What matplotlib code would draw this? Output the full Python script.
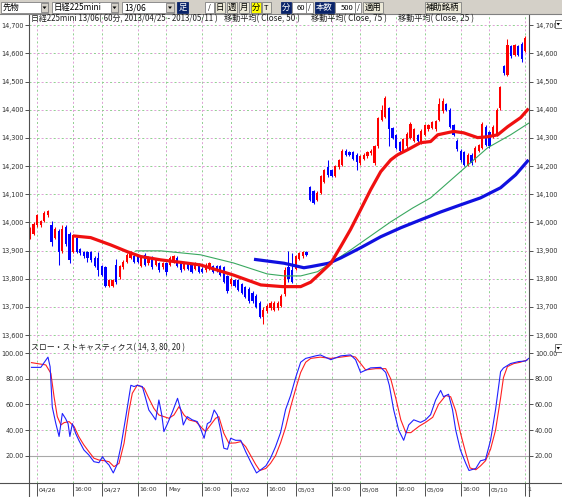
import matplotlib
matplotlib.use('Agg')
import matplotlib.pyplot as plt
from matplotlib.patches import Rectangle, Polygon
from matplotlib.lines import Line2D
import matplotlib.transforms as mtrans
import numpy as np

plt.rcParams['font.family'] = ['Noto Sans CJK JP', 'DejaVu Sans']
plt.rcParams['lines.scale_dashes'] = False

# ---------------- data (hourly bars, 2013/04/25 22:00 .. 2013/05/10 16:00) ----------------
opens = [13945, 13960, 13990, 13990, 14005, 14025, 13990, 13945, 13970, 13900,
         13985, 13960, 13895, 13945, 13905, 13895, 13895, 13895, 13875, 13875,
         13845, 13840, 13775, 13775, 13850, 13805, 13840, 13860, 13875, 13880,
         13880, 13845, 13885, 13855, 13875, 13850, 13855, 13840, 13855, 13850,
         13860, 13875, 13855, 13835, 13855, 13850, 13835, 13850, 13835, 13830,
         13835, 13845, 13845, 13845, 13840, 13810, 13780, 13795, 13795, 13780,
         13770, 13765, 13750, 13740, 13715, 13665, 13685, 13695, 13690, 13695,
         13705, 13745, 13840, 13830, 13835, 13870, 13880, 13895, 14125, 14110,
         14080, 14105, 14145, 14195, 14185, 14165, 14195, 14205, 14255, 14250,
         14250, 14240, 14210, 14225, 14235, 14245, 14210, 14270, 14365, 14375,
         14405, 14335, 14310, 14285, 14255, 14270, 14300, 14290, 14310, 14285,
         14310, 14330, 14335, 14330, 14365, 14395, 14420, 14400, 14345, 14290,
         14255, 14250, 14205, 14240, 14220, 14255, 14265, 14340, 14320, 14305,
         14310, 14405, 14555, 14525, 14625, 14595, 14625, 14635, 14610]
highs = [13985, 14000, 14030, 14010, 14040, 14045, 14005, 13985, 13975, 13990,
         13990, 13965, 13960, 13950, 13910, 13900, 13900, 13900, 13880, 13895,
         13850, 13845, 13800, 13800, 13870, 13850, 13865, 13890, 13900, 13890,
         13885, 13880, 13890, 13880, 13880, 13870, 13860, 13860, 13860, 13880,
         13885, 13880, 13860, 13860, 13860, 13855, 13860, 13855, 13840, 13855,
         13860, 13850, 13850, 13850, 13845, 13815, 13805, 13800, 13800, 13785,
         13775, 13770, 13755, 13745, 13720, 13700, 13710, 13720, 13720, 13720,
         13745, 13840, 13900, 13890, 13885, 13895, 13900, 13900, 14130, 14115,
         14110, 14170, 14190, 14220, 14190, 14205, 14225, 14260, 14260, 14255,
         14255, 14245, 14240, 14245, 14255, 14260, 14275, 14375, 14415, 14450,
         14410, 14340, 14315, 14290, 14300, 14320, 14355, 14335, 14315, 14330,
         14350, 14350, 14360, 14365, 14440, 14440, 14425, 14405, 14350, 14295,
         14260, 14255, 14245, 14245, 14270, 14280, 14355, 14345, 14325, 14345,
         14405, 14485, 14560, 14650, 14630, 14635, 14630, 14640, 14660]
lows = [13940, 13955, 13985, 13985, 14000, 14020, 13915, 13940, 13850, 13890,
        13915, 13855, 13890, 13890, 13885, 13875, 13860, 13860, 13840, 13810,
        13810, 13770, 13770, 13770, 13780, 13800, 13835, 13855, 13870, 13855,
        13855, 13840, 13845, 13850, 13835, 13845, 13825, 13835, 13815, 13845,
        13855, 13840, 13825, 13830, 13830, 13820, 13830, 13820, 13820, 13825,
        13830, 13820, 13825, 13810, 13785, 13750, 13775, 13770, 13755, 13745,
        13730, 13715, 13715, 13695, 13660, 13640, 13680, 13690, 13685, 13690,
        13700, 13740, 13790, 13785, 13830, 13865, 13875, 13880, 14075, 14065,
        14075, 14100, 14140, 14160, 14160, 14160, 14190, 14200, 14235, 14235,
        14220, 14185, 14205, 14220, 14230, 14240, 14205, 14265, 14360, 14370,
        14270, 14295, 14260, 14250, 14250, 14265, 14295, 14285, 14285, 14280,
        14305, 14325, 14330, 14325, 14360, 14390, 14395, 14335, 14305, 14255,
        14215, 14200, 14200, 14205, 14215, 14250, 14260, 14270, 14265, 14300,
        14305, 14400, 14525, 14520, 14585, 14590, 14590, 14570, 14605]
closes = [13980, 13995, 14025, 14005, 14035, 14040, 13930, 13975, 13895, 13975,
          13925, 13865, 13955, 13895, 13890, 13880, 13875, 13865, 13845, 13830,
          13815, 13775, 13795, 13795, 13790, 13845, 13860, 13885, 13895, 13860,
          13860, 13875, 13850, 13875, 13840, 13865, 13830, 13855, 13825, 13875,
          13880, 13845, 13830, 13855, 13835, 13825, 13855, 13825, 13825, 13850,
          13855, 13825, 13830, 13815, 13790, 13755, 13800, 13775, 13760, 13750,
          13735, 13720, 13720, 13700, 13665, 13690, 13705, 13715, 13715, 13715,
          13740, 13830, 13800, 13790, 13880, 13890, 13895, 13885, 14080, 14070,
          14105, 14165, 14185, 14170, 14165, 14200, 14220, 14255, 14240, 14240,
          14225, 14215, 14235, 14240, 14250, 14255, 14270, 14370, 14400, 14440,
          14330, 14300, 14265, 14255, 14295, 14315, 14350, 14330, 14290, 14325,
          14345, 14345, 14355, 14360, 14420, 14430, 14400, 14340, 14310, 14260,
          14220, 14205, 14240, 14210, 14265, 14275, 14350, 14275, 14270, 14340,
          14400, 14480, 14530, 14630, 14590, 14630, 14595, 14580, 14655]

# moving averages read at sample bars (bar index, price)
ma25_idx = [12.1, 16.9, 22.5, 27.1, 30.8, 36.4, 43.4, 47.5, 56.7, 64.3, 70.4, 75.4, 78.2,
            80.9, 83.8, 86.6, 89.3, 92.1, 94.9, 97.7, 100.5, 102.4, 105.2, 108.8, 111.6,
            113.6, 118.0, 120.8, 124.7, 127.5, 130.3, 133.1, 136.7, 138.9]
ma25_val = [13952, 13946, 13920, 13896, 13879, 13867, 13856, 13849, 13813, 13778, 13772,
            13772, 13788, 13820, 13855, 13915, 13975, 14045, 14116, 14180, 14222, 14240,
            14258, 14283, 14287, 14311, 14323, 14318, 14301, 14304, 14311, 14340, 14372, 14404]
ma50_idx = [29.5, 36.4, 42.0, 47.5, 56.7, 66.1, 70.8, 75.4, 80.1, 83.8, 89.3, 94.9,
            100.5, 106.6, 111.6, 119.9, 127.5, 133.9, 138.9]
ma50_val = [13899, 13899, 13892, 13885, 13856, 13817, 13810, 13810, 13825, 13856, 13902,
            13952, 14002, 14051, 14087, 14180, 14265, 14311, 14352]
ma75_idx = [62.4, 70.8, 76.3, 78.2, 83.2, 86.6, 92.1, 97.7, 103.3, 108.8, 114.4, 119.9,
            125.5, 131.1, 135.3, 138.9]
ma75_val = [13869, 13855, 13839, 13843, 13855, 13874, 13910, 13949, 13981, 14009, 14037,
            14062, 14087, 14123, 14169, 14222]

# slow stochastics (14, 3) read at sample bars
k_idx = [0.4, 3.0, 5.0, 5.6, 6.2, 7.2, 8.1, 9.0, 9.9, 10.6, 11.1, 11.8, 12.7, 13.6, 15.0,
         16.4, 17.8, 19.2, 20.2, 21.1, 22.0, 23.2, 24.2, 25.3, 26.7, 28.1, 29.0, 29.9, 31.3,
         32.2, 33.1, 34.1, 35.0, 35.9, 36.7, 37.3, 38.3, 39.7, 41.1, 42.0, 42.7, 43.8, 45.2,
         46.6, 47.5, 48.5, 49.4, 50.3, 51.3, 52.2, 53.1, 54.0, 55.0, 55.9, 57.3, 58.7, 60.1,
         61.5, 63.1, 64.3, 65.7, 67.0, 68.4, 69.8, 71.2, 72.6, 74.0, 75.4, 76.8, 79.6, 80.9,
         83.8, 86.6, 89.3, 90.7, 92.1, 94.9, 97.7, 99.1, 100.1, 101.3, 102.7, 104.1, 105.5,
         106.9, 108.8, 110.2, 111.6, 113.0, 114.4, 115.2, 116.6, 117.7, 118.6, 119.9, 121.4,
         122.3, 124.2, 125.5, 126.9, 128.3, 129.7, 131.1, 131.9, 133.9, 136.1, 138.1, 138.9]
k_val = [89, 89, 97, 89.5, 58, 45, 35, 53, 49, 45, 35, 45, 37.5, 32, 24.5,
         20.5, 15.3, 14.5, 19.2, 15.3, 12.7, 6.5, 12.7, 27, 50.5, 75, 74, 75, 74,
         65, 55.7, 51.8, 48, 63.5, 52, 38.8, 45, 54.4, 64.8, 55.7, 44, 50.5, 48,
         46.6, 41.4, 33.6, 45, 46.6, 55.7, 51.8, 40, 25.8, 25, 33.6, 32, 32, 23,
         15, 6.5, 9, 12, 18, 27, 38, 56, 67, 81, 93, 96, 98, 98.7,
         95, 98, 98.7, 95, 85, 88.6, 89, 85, 75, 56, 40, 32, 44,
         48, 46, 48, 52, 63.5, 71, 66, 68, 56, 40, 24.5, 14,
         8.4, 10, 16, 17, 32, 56, 85.6, 88.5, 92, 93.5, 94, 96]
d_idx = [0.4, 4.4, 5.8, 6.7, 7.6, 8.6, 9.5, 10.9, 12.3, 13.6, 15.0, 16.4, 17.8, 19.2,
         20.6, 22.0, 23.4, 24.8, 26.2, 27.6, 28.5, 29.9, 31.8, 33.1, 34.5, 35.9, 37.3,
         38.7, 40.1, 41.5, 42.9, 44.3, 46.2, 48.0, 48.9, 50.3, 51.7, 52.6, 54.0, 55.4,
         57.3, 58.7, 60.1, 61.5, 62.9, 64.0, 65.7, 67.0, 68.4, 69.8, 71.2, 72.6, 74.0,
         75.4, 76.8, 78.2, 80.9, 83.8, 86.6, 89.3, 90.7, 92.1, 93.5, 96.3, 99.1, 100.5,
         101.9, 103.3, 104.7, 106.1, 108.4, 110.2, 112.2, 113.8, 115.8, 117.2, 118.6,
         119.9, 121.4, 122.6, 124.2, 125.5, 126.9, 128.3, 129.7, 131.1, 131.9, 133.0,
         134.8, 136.6, 138.5]
d_val = [92.7, 90.9, 84.4, 66, 50.5, 44, 45.8, 46.6, 42.7, 34.8, 28.4, 23.1, 18, 16.6,
         16.1, 15.3, 11.4, 14, 29.7, 55.7, 68.75, 75.2, 72.7, 64.8, 57, 51.8, 50.5,
         49.2, 51.8, 58.3, 51.8, 47.9, 46.6, 41.4, 38.8, 44, 49.2, 50.5, 37.5, 29.7,
         30, 31, 27, 20, 13, 8.4, 10, 14, 20, 30, 42, 58, 72,
         85, 93, 96, 97, 96, 97, 98, 97, 92, 87, 88, 88, 80,
         65, 48, 38, 38, 43, 46, 50, 60, 67, 66, 55,
         38, 22, 10.4, 9, 12, 16, 25, 40, 65, 81, 89.6,
         92, 93, 94.8]

price_ticks = [14700, 14600, 14500, 14400, 14300, 14200, 14100, 14000, 13900, 13800, 13700, 13600]
price_labels = ['14,700', '14,600', '14,500', '14,400', '14,300', '14,200', '14,100',
                '14,000', '13,900', '13,800', '13,700', '13,600']
stoch_ticks = [100, 80, 60, 40, 20]
stoch_labels = ['100.00', '80.00', '60.00', '40.00', '20.00']
time_ticks = [2, 12, 20, 30, 38, 48, 56, 66, 74, 84, 92, 102, 110, 120, 128, 138]
time_labels = ['04/26', '16:00', '04/27', '16:00', 'May', '16:00', '05/02', '16:00',
               '05/03', '16:00', '05/08', '16:00', '05/09', '16:00', '05/10', '1']

# ---------------- figure ----------------
W, H = 562, 497
fig = plt.figure(figsize=(W / 100, H / 100), dpi=100)
fig.patch.set_facecolor('white')

def fx(x):
    return x / W

def fy(y):
    return 1 - y / H

L, R = 29.3, 529.3
TOP, MID, BOT = 14.5, 341.0, 483.3
ax = fig.add_axes([fx(L), fy(MID), (R - L) / W, (MID - TOP) / H])
ax2 = fig.add_axes([fx(L), fy(BOT), (R - L) / W, (BOT - MID) / H])

XL = (-0.2, 139.1)
AXC = '#505050'

def dgrid(a, orient, v):
    for col, off in (('#8fd08f', 0.0), ('#e0a0d8', 2.9)):
        kw = dict(color=col, lw=0.7, linestyle=(off, (1.45, 4.35)), zorder=0.5)
        if orient == 'h':
            a.axhline(v, **kw)
        else:
            a.axvline(v, **kw)

for a in (ax, ax2):
    a.set_xlim(*XL)
    a.set_facecolor('white')
    for s in a.spines.values():
        s.set_visible(False)
    for t in time_ticks:
        dgrid(a, 'v', t)

# ---- main price panel ----
ax.set_ylim(13579, 14738)
for p in price_ticks:
    dgrid(ax, 'h', p)

idx = np.arange(len(opens))
o = np.array(opens)
c = np.array(closes)
hi = np.array(highs)
lo = np.array(lows)
cols = np.where(c >= o, '#ff0000', '#0000ff')
ax.vlines(idx, lo, hi, colors=cols, lw=0.75, zorder=2)
ax.bar(idx, np.maximum(np.abs(c - o), 3), bottom=np.minimum(o, c), width=0.62,
       color=cols, linewidth=0, zorder=2)

ax.plot(ma50_idx, ma50_val, color='#3aa860', lw=0.8, zorder=3)
ax.plot(ma75_idx, ma75_val, color='#1010e0', lw=2.3, zorder=3, solid_capstyle='butt')
ax.plot(ma25_idx, ma25_val, color='#f01010', lw=2.3, zorder=4, solid_capstyle='butt')

ax.set_yticks(price_ticks)
ax.set_yticklabels(price_labels)
ax.set_xticks([])
ax.tick_params(axis='y', which='both', left=True, right=True, labelleft=True, labelright=True,
               length=3, width=0.7, color=AXC, labelsize=4.7, labelcolor='#303030',
               labelfontfamily='DejaVu Sans', pad=1)

# ---- stochastic panel ----
ax2.set_ylim(-1.6, 109.6)
for v in (100, 60, 40):
    dgrid(ax2, 'h', v)
for v in (80, 20):
    ax2.axhline(v, color='#a8a8a8', lw=0.8, zorder=0.6)
ax2.plot(d_idx, d_val, color='#ff2020', lw=0.8, zorder=3)
ax2.plot(k_idx, k_val, color='#2020ff', lw=0.8, zorder=4)
ax2.set_yticks(stoch_ticks)
ax2.set_yticklabels(stoch_labels)
ax2.tick_params(axis='y', which='both', left=True, right=True, labelleft=True, labelright=True,
                length=3, width=0.7, color=AXC, labelsize=4.7, labelcolor='#303030',
                labelfontfamily='DejaVu Sans', pad=1)
ax2.set_xticks(time_ticks)
ax2.set_xticklabels(time_labels)
ax2.tick_params(axis='x', length=9.5, width=0.7, color=AXC, labelsize=4.4,
                labelcolor='#303030', labelfontfamily='DejaVu Sans', pad=-6.5)
off = mtrans.ScaledTranslation(1.5 / 100, 0, fig.dpi_scale_trans)
for lab in ax2.get_xticklabels():
    lab.set_horizontalalignment('left')
    lab.set_transform(lab.get_transform() + off)

# ---- frame lines (figure pixel coords) ----
def fline(x0, y0, x1, y1, color=AXC, lw=0.8):
    fig.add_artist(Line2D([fx(x0), fx(x1)], [fy(y0), fy(y1)], color=color, lw=lw,
                          transform=fig.transFigure))

fline(L, TOP, L, H)
fline(R, TOP, R, H)
fline(0, BOT, W, BOT)

# ---- panel titles ----
TC = '#202020'
fig.text(fx(31), fy(19), '日経225mini 13/06( 60分, 2013/04/25 - 2013/05/11 )', fontsize=5.7,
         va='center', ha='left', color=TC)
fig.text(fx(224), fy(19), '移動平均( Close, 50 )', fontsize=5.9, va='center', ha='left', color=TC)
fig.text(fx(311), fy(19), '移動平均( Close, 75 )', fontsize=5.9, va='center', ha='left', color=TC)
fig.text(fx(398), fy(19), '移動平均( Close, 25 )', fontsize=5.9, va='center', ha='left', color=TC)
fig.text(fx(31), fy(348), 'スロー・ストキャスティクス( 14, 3, 80, 20 )', fontsize=5.7,
         va='center', ha='left', color=TC)

# ---- toolbar ----
fig.add_artist(Rectangle((0, fy(14.3)), 1, 14.3 / H, transform=fig.transFigure,
                         facecolor='#d4d0c8', edgecolor='none'))
fline(0, 14.3, W, 14.3, color='#808080', lw=0.8)

def box(x0, x1, fc, txt='', tc='black', ec='#808080', ha='center', tx=None, fs=6.0, y0=2, y1=13):
    fig.add_artist(Rectangle((fx(x0), fy(y1)), (x1 - x0) / W, (y1 - y0) / H,
                             transform=fig.transFigure, facecolor=fc, edgecolor=ec, lw=0.6))
    if txt:
        if tx is None:
            tx = (x0 + x1) / 2
        fig.text(fx(tx), fy((y0 + y1) / 2 + 0.3), txt, fontsize=fs, color=tc, ha=ha, va='center')

def arrow(x0, x1):
    box(x0, x1, '#d4d0c8', ec='#808080', y0=3, y1=12)
    cx = (x0 + x1) / 2
    fig.add_artist(Polygon([[fx(cx - 2), fy(6.5)], [fx(cx + 2), fy(6.5)], [fx(cx), fy(9)]],
                           closed=True, transform=fig.transFigure, facecolor='black', edgecolor='none'))

box(1, 48, 'white', '先物', ha='left', tx=3)
arrow(41, 48)
box(52, 118, 'white', '日経225mini', ha='left', tx=54)
arrow(111, 118)
box(122, 174, 'white', '13/06', ha='left', tx=124)
arrow(166, 174)
box(177, 188, '#0a246a', '足', tc='white', ec='#0a246a')
box(205, 214, 'white', '/', fs=5)
box(215, 225, '#ece9d8', '日')
box(227, 237, '#ece9d8', '週')
box(239, 249, '#ece9d8', '月')
box(251, 261, '#ffff00', '分')
box(262, 271, '#ece9d8', 'T', fs=5.5)
box(281, 291, '#0a246a', '分', tc='white', ec='#0a246a')
box(292, 306, 'white', '60', ha='right', tx=305, fs=5.5)
box(306, 313, 'white', '/', fs=5)
box(315, 334, '#0a246a', '本数', tc='white', ec='#0a246a')
box(335, 355, 'white', '500', ha='right', tx=354, fs=5.5)
box(355, 361, 'white', '/', fs=5)
box(363, 383, '#ece9d8', '適用')
box(425, 461, '#ece9d8', '補助銘柄')

# small scroll markers on the right
for yy in (20, 344):
    box(555, 561.5, 'white', ec='#606060', y0=yy, y1=yy + 8)
    fig.add_artist(Polygon([[fx(556.5), fy(yy + 3)], [fx(560), fy(yy + 3)], [fx(558.2), fy(yy + 5.5)]],
                           closed=True, transform=fig.transFigure, facecolor='black', edgecolor='none'))

fig.savefig('out.png', dpi=100)
